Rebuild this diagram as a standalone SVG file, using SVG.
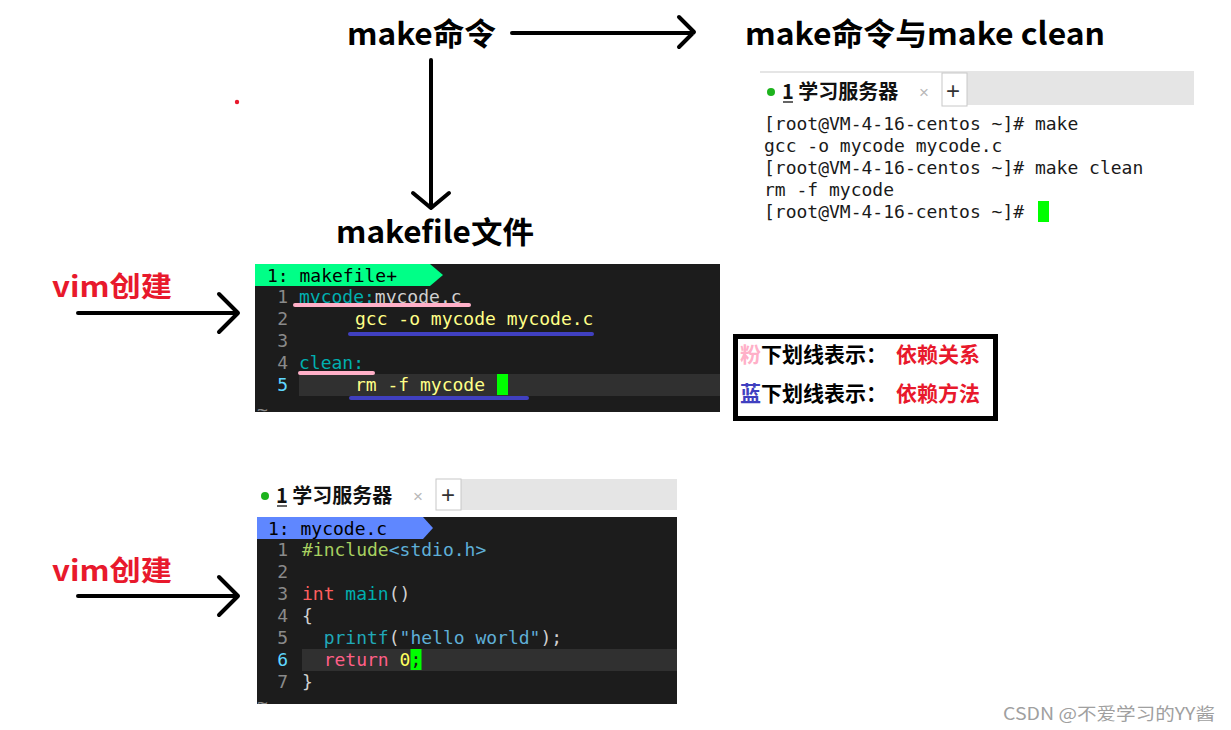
<svg xmlns="http://www.w3.org/2000/svg" width="1231" height="730" viewBox="0 0 1231 730">
<style>
.title{font-family:"Noto Sans CJK SC","Liberation Sans",sans-serif;font-weight:bold;fill:#000}
.red{font-family:"Noto Sans CJK SC","Liberation Sans",sans-serif;font-weight:bold;fill:#e8192c}
.arr{stroke:#000;stroke-width:4;fill:none;stroke-linecap:round;stroke-linejoin:round}
.mono{font-family:"DejaVu Sans Mono","Liberation Mono",monospace;font-size:18px;white-space:pre}
.term{fill:#1a1a1a}
.ln{fill:#8a8a8a;text-anchor:end}
.lncur{fill:#5fd7ff;text-anchor:end}
.tab{font-family:"Noto Sans CJK SC","Liberation Sans",sans-serif;font-size:20px;font-weight:bold;fill:#111}
.x{font-family:"Liberation Sans",sans-serif;font-size:17px;fill:#b8b8b8}
.plus{font-family:"Liberation Sans",sans-serif;font-size:24px;fill:#333}
.leg{font-family:"Noto Sans CJK SC","Liberation Sans",sans-serif;font-weight:bold;font-size:21px}
.pink{stroke:#ffb0c8;stroke-width:4;stroke-linecap:round}
.blue{stroke:#4040c0;stroke-width:4;stroke-linecap:round}
</style>
<rect width="1231" height="730" fill="#fff"/>
<circle cx="237" cy="102" r="2.2" fill="#e8192c"/>

<g id="title-make">
<text class="title" x="347" y="45" font-size="31" textLength="149" lengthAdjust="spacingAndGlyphs">make命令</text>
</g>
<g id="title-make-clean">
<text class="title" x="745" y="45" font-size="31" textLength="360" lengthAdjust="spacingAndGlyphs">make命令与make clean</text>
</g>
<g id="title-makefile">
<text class="title" x="336" y="243" font-size="30" textLength="198" lengthAdjust="spacingAndGlyphs">makefile文件</text>
</g>
<g id="label-vim1">
<text class="red" x="52" y="297" font-size="28" textLength="120" lengthAdjust="spacingAndGlyphs">vim创建</text>
</g>
<g id="label-vim2">
<text class="red" x="52" y="581" font-size="28" textLength="120" lengthAdjust="spacingAndGlyphs">vim创建</text>
</g>

<g id="connectors">
<path class="arr" d="M512,33 H693 M679,17 L694,32 L679,47"/>
<path class="arr" d="M431,60 V207 M413,193 L431,208 L449,193"/>
<path class="arr" d="M78,313 H238 M219,294 L238,313 L219,332"/>
<path class="arr" d="M78,596 H238 M219,577 L238,596 L219,615"/>
</g>

<g id="terminal-top">
<rect x="760" y="71" width="434" height="34" fill="#e5e5e5"/>
<rect x="760" y="73" width="182" height="33" fill="#fff"/>
<rect x="942" y="73" width="25" height="33" fill="#fff" stroke="#c8c8c8" stroke-width="1"/>
<circle cx="771" cy="92" r="4" fill="#1db31d"/>
<text class="tab" x="782" y="99">1 学习服务器</text>
<line x1="783" y1="102" x2="793" y2="102" stroke="#111" stroke-width="1.3"/>
<text class="x" x="919" y="98">×</text>
<text class="plus" x="946" y="99">+</text>
<text class="mono term" x="764" y="130">[root@VM-4-16-centos ~]# make</text>
<text class="mono term" x="764" y="152">gcc -o mycode mycode.c</text>
<text class="mono term" x="764" y="174">[root@VM-4-16-centos ~]# make clean</text>
<text class="mono term" x="764" y="196">rm -f mycode</text>
<text class="mono term" x="764" y="218">[root@VM-4-16-centos ~]#</text>
<rect x="1038" y="201" width="11" height="21" fill="#00ff00"/>
</g>

<g id="vim-makefile">
<rect x="255" y="264" width="465" height="148" fill="#1c1c1c"/>
<polygon points="255,264 430,264 443,275 430,286 255,286" fill="#00ff87"/>
<text class="mono" x="267" y="282" fill="#000">1: makefile+</text>
<rect x="299" y="374" width="421" height="22" fill="#303030"/>
<text class="mono ln" x="288" y="303">1</text>
<text class="mono ln" x="288" y="325">2</text>
<text class="mono ln" x="288" y="347">3</text>
<text class="mono ln" x="288" y="369">4</text>
<text class="mono lncur" x="288" y="391">5</text>
<text class="mono" x="299" y="303"><tspan fill="#00afaf">mycode:</tspan><tspan fill="#d0d0d0">mycode.c</tspan></text>
<text class="mono" x="355" y="325" fill="#ffff87">gcc -o mycode mycode.c</text>
<text class="mono" x="299" y="369" fill="#00afaf">clean:</text>
<text class="mono" x="355" y="391" fill="#ffff87">rm -f mycode</text>
<rect x="497" y="374" width="11" height="21" fill="#00ff00"/>
<text class="mono" x="257" y="416" fill="#8a8a8a" clip-path="url(#clipmk)">~</text>
<line class="pink" x1="295" y1="305" x2="469" y2="305"/>
<line class="blue" x1="350" y1="334" x2="592" y2="334"/>
<line class="pink" x1="300" y1="373" x2="373" y2="373"/>
<line class="blue" x1="351" y1="398" x2="527" y2="398"/>
</g>
<defs>
<clipPath id="clipmk"><rect x="255" y="264" width="465" height="148"/></clipPath>
<clipPath id="clipc"><rect x="257" y="517" width="420" height="187"/></clipPath>
</defs>

<g id="legend">
<rect x="735.5" y="336.5" width="260" height="82" fill="#fff" stroke="#000" stroke-width="5"/>
<text class="leg" x="740" y="362"><tspan fill="#ffb0c8">粉</tspan><tspan fill="#000">下划线表示：</tspan></text>
<text class="leg" x="896" y="362" fill="#e8192c">依赖关系</text>
<text class="leg" x="740" y="401"><tspan fill="#4040c0">蓝</tspan><tspan fill="#000">下划线表示：</tspan></text>
<text class="leg" x="896" y="401" fill="#e8192c">依赖方法</text>
</g>

<g id="terminal-bottom">
<rect x="461" y="479" width="216" height="31" fill="#e5e5e5"/>
<rect x="436" y="479" width="25" height="31" fill="#fff" stroke="#c8c8c8" stroke-width="1"/>
<circle cx="265" cy="496" r="4" fill="#1db31d"/>
<text class="tab" x="276" y="503">1 学习服务器</text>
<line x1="277" y1="506" x2="287" y2="506" stroke="#111" stroke-width="1.3"/>
<text class="x" x="413" y="502">×</text>
<text class="plus" x="441" y="503">+</text>
</g>

<g id="vim-mycode">
<rect x="257" y="517" width="420" height="187" fill="#1c1c1c"/>
<polygon points="257,517 423,517 433,528 423,539 257,539" fill="#5f87ff"/>
<text class="mono" x="268" y="535" fill="#000">1: mycode.c</text>
<rect x="302" y="649" width="375" height="22" fill="#303030"/>
<text class="mono ln" x="288" y="556">1</text>
<text class="mono ln" x="288" y="578">2</text>
<text class="mono ln" x="288" y="600">3</text>
<text class="mono ln" x="288" y="622">4</text>
<text class="mono ln" x="288" y="644">5</text>
<text class="mono lncur" x="288" y="666">6</text>
<text class="mono ln" x="288" y="688">7</text>
<text class="mono" x="302" y="556"><tspan fill="#a8d060">#include</tspan><tspan fill="#5fafd7">&lt;stdio.h&gt;</tspan></text>
<text class="mono" x="302" y="600"><tspan fill="#ff5f5f">int</tspan> <tspan fill="#00afaf">main</tspan><tspan fill="#d0d0d0">()</tspan></text>
<text class="mono" x="302" y="622" fill="#d0d0d0">{</text>
<text class="mono" x="323.7" y="644"><tspan fill="#20a8b8">printf</tspan><tspan fill="#d0d0d0">(</tspan><tspan fill="#5fafd7">"hello world"</tspan><tspan fill="#d0d0d0">);</tspan></text>
<rect x="410.5" y="649" width="11" height="21" fill="#00ff00"/>
<text class="mono" x="323.7" y="666"><tspan fill="#ff5f87">return</tspan> <tspan fill="#ffff5f">0</tspan><tspan fill="#1c1c1c">;</tspan></text>
<text class="mono" x="302" y="688" fill="#d0d0d0">}</text>
<text class="mono" x="257" y="709" fill="#8a8a8a" clip-path="url(#clipc)">~</text>
</g>

<g id="watermark">
<text x="1003" y="720" font-family="'Noto Sans CJK SC','Liberation Sans',sans-serif" font-size="17" fill="#a0a0a0" textLength="212" lengthAdjust="spacingAndGlyphs">CSDN @不爱学习的YY酱</text>
</g>
</svg>
